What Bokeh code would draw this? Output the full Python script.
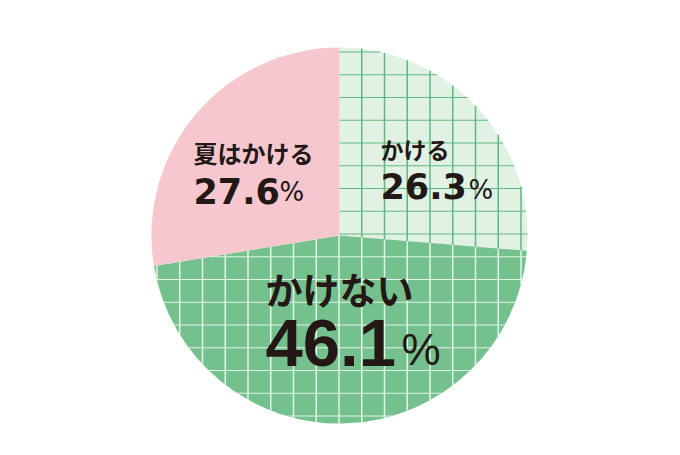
import numpy as np
from bokeh.plotting import figure
from bokeh.models import Range1d, ColumnDataSource
from bokeh.core.properties import value
from bokeh.embed import file_html
from bokeh.resources import INLINE

# answers, clockwise from 12 o'clock
labels = ["かける", "かけない", "夏はかける"]
shares = [26.3, 46.1, 27.6]
share_text = ["26.3", "46.1", "27.6"]

fills = ["#e1f2e5", "#74c18e", "#f6c7ce"]
grid_colors = ["#5fb880", "#e2f4e6", None]

frac = np.array(shares) / sum(shares)
ends = np.cumsum(frac)
starts = ends - frac
src = ColumnDataSource(dict(
    start=np.pi / 2 - starts * 2 * np.pi,
    end=np.pi / 2 - ends * 2 * np.pi,
    fill=fills,
))

p = figure(width=664, height=439, toolbar_location=None, output_backend="svg",
           x_range=Range1d(0, 664), y_range=Range1d(0, 439), min_border=0)
p.axis.visible = False
p.grid.visible = False
p.outline_line_color = None

cx, cy, r = 339, 204, 188
p.wedge(x=cx, y=cy, radius=r, start_angle="start", end_angle="end",
        direction="clock", fill_color="fill", line_color=None, source=src)

# square grid printed over the green slices, cut at the slice edges
step = 22.75
gx0, gy0 = cx - 0.5, cy + 1.5
rays = np.pi / 2 - 2 * np.pi * starts


def slice_of(px, py):
    t = ((np.pi / 2 - np.arctan2(py - cy, px - cx)) % (2 * np.pi)) / (2 * np.pi)
    return int(np.searchsorted(ends, t, side="right"))


seg = dict(x0=[], y0=[], x1=[], y1=[], color=[], width=[])


def add_line(vertical, c):
    d = c - (cx if vertical else cy)
    if abs(d) >= r:
        return
    mid = cy if vertical else cx
    h = np.sqrt(r * r - d * d)
    cuts = [mid - h, mid + h]
    for b in rays:
        comp = np.cos(b) if vertical else np.sin(b)
        if abs(comp) < 1e-9:
            continue
        s = d / comp
        if 0 < s < r:
            cuts.append(mid + s * (np.sin(b) if vertical else np.cos(b)))
    cuts.sort()
    for a, e in zip(cuts[:-1], cuts[1:]):
        m = (a + e) / 2
        i = slice_of(c, m) if vertical else slice_of(m, c)
        if grid_colors[i] is None:
            continue
        if vertical:
            seg["x0"].append(c); seg["y0"].append(a); seg["x1"].append(c); seg["y1"].append(e)
            seg["width"].append(1.5)
        else:
            seg["x0"].append(a); seg["y0"].append(c); seg["x1"].append(e); seg["y1"].append(c)
            seg["width"].append(1.1)
        seg["color"].append(grid_colors[i])


for k in range(-9, 10):
    add_line(True, gx0 + k * step)
    add_line(False, gy0 + k * step)

p.segment(x0="x0", y0="y0", x1="x1", y1="y1", line_color="color",
          line_width="width", source=ColumnDataSource(seg))

ink = "#231815"
jp = value("Noto Sans CJK JP")

# label / number / percent positions per slice
lab_pos = [(380, 291, "23px"), (265, 151, "37px"), (193, 287, "24px")]
num_pos = [(380, 254, "35px", "DejaVu Sans"), (265, 97, "67px", "Liberation Sans"),
           (193, 249, "35px", "DejaVu Sans")]
pct_pos = [(468, 250, "26px", "DejaVu Sans"), (401, 90, "44px", "Liberation Sans"),
           (279, 248, "26px", "DejaVu Sans")]

for i in range(len(labels)):
    x, y, s = lab_pos[i]
    p.text(x=[x], y=[y], text=[labels[i]], text_font=jp, text_font_style="bold",
           text_font_size=s, text_color=ink, text_baseline="middle")
    x, y, s, f = num_pos[i]
    p.text(x=[x], y=[y], text=[share_text[i]], text_font=value(f),
           text_font_style="bold", text_font_size=s, text_color=ink,
           text_baseline="middle")
    x, y, s, f = pct_pos[i]
    p.text(x=[x], y=[y], text=["%"], text_font=value(f), text_font_size=s,
           text_color=ink, text_baseline="middle")

open("out.html", "w").write(file_html(p, INLINE))
